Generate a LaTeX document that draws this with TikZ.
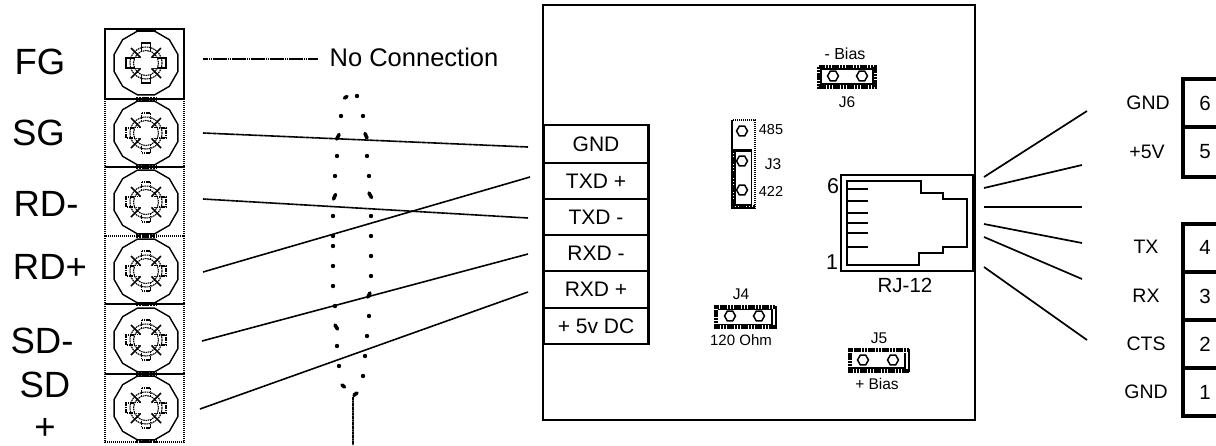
\documentclass[tikz,border=0pt]{standalone}
\usepackage{fontspec}
\setmainfont{Liberation Sans}
\newcommand{\fsz}[1]{\fontsize{#1}{#1}\selectfont}
\tikzset{
  x=1pt,y=-1pt,
  lab/.style={inner sep=0pt,font=\fsz{#1}},
  lab/.default=14,
  frame/.style={draw=black,line width=2.2pt},
  tbl/.style={draw=black,line width=3.6pt},
  wire/.style={draw=black,line width=1.6pt,dash pattern=on 1.6pt off .3pt},
  plainwire/.style={draw=black,line width=1.7pt},
  stripline/.style={draw=black,line width=2pt,dash pattern=on 1.4pt off .6pt},
  fatdash/.style={draw=black,line width=3.8pt,dash pattern=on 2.2pt off .6pt},
  thinrect/.style={draw=black,line width=1.3pt},
  dotty/.style={draw=black,line width=3.6pt,line cap=round},
  pics/screw/.style={code={
    \draw[line width=1.4pt,fill=white] (15:33)--(45:33)--(75:33)--(105:33)--(135:33)--(165:33)--(195:33)--(225:33)--(255:33)--(285:33)--(315:33)--(345:33)--cycle;
    \draw[line width=1.4pt,#1] (-4.5,-20)--(4.5,-20)--(4.5,-5)--(20,-5)--(20,5)--(4.5,5)--(4.5,20)--(-4.5,20)--(-4.5,5)--(-20,5)--(-20,-5)--(-4.5,-5)--cycle;
    \draw[line width=1.7pt] (-15,-15)--(15,15) (-15,15)--(15,-15);
    \draw[line width=1.1pt,dash pattern=on 1.6pt off .7pt] (0,0) circle[radius=16];
    \draw[line width=1.1pt,dash pattern=on 1.6pt off .7pt] (0,0) circle[radius=12.5];
    \fill[white] (-5,-11)--(5,-11)--(5,-5)--(11,-5)--(11,5)--(5,5)--(5,11)--(-5,11)--(-5,5)--(-11,5)--(-11,-5)--(-5,-5)--cycle;
  }},
  pics/screw/.default={dash pattern=on 1.6pt off .7pt},
  pics/pin/.style={code={
    \draw[line width=1.5pt] (0:5.5)--(60:5.5)--(120:5.5)--(180:5.5)--(240:5.5)--(300:5.5)--cycle;
  }},
}
\begin{document}
\begin{tikzpicture}
\useasboundingbox (0,0) rectangle (1216,445);
% terminal strip
\foreach \ya/\yb in {99/167,167/236,236/304,304/374,374/442}{
  \draw[stripline] (105,\ya) rectangle (184,\yb);
}
\draw[frame] (105,29) rectangle (184,99);
\pic at (146,63) {screw={solid}};
\foreach \c in {133,202,271,340,408}{ \pic at (146,\c) {screw}; }
\draw[line width=3pt] (136,30)--(156,30);
\foreach \c in {99,167,236,304,374,441}{ \draw[fatdash] (136,\c)--(156,\c); }
% left labels
\node[lab=36.5] (fg) at (40,62) {FG};
\node[lab=36.5] (sg) at (38.5,133) {SG};
\node[lab=36.5] (rdm) at (46,204) {RD-};
\node[lab=36.5] (rdp) at (50,267) {RD+};
\node[lab=36.5] (sdm) at (42,341) {SD-};
\node[lab=36.5] (sdp1) at (45,385) {SD};
\node[lab=36.5] (sdp2) at (45,429) {+};
\node[lab=25.5] (nc) at (414,57) {No Connection};
% main board
\draw[frame] (543,5) rectangle (975,420);
% board terminal block
\foreach \n/\ya/\yb/\t in {a/125/163/GND,b/163/199/TXD +,c/199/235/TXD -,d/235/271/RXD -,e/271/308/RXD +,f/308/344/+ 5v DC}{
  \node[draw=black,line width=2.2pt,fill=white,minimum width=105pt,minimum height=\yb pt-\ya pt,inner sep=0pt,font=\fsz{21}] (t\n) at (596,{(\ya+\yb)/2}) {\t};
}
% wires
\coordinate (w1a) at (203,59); \coordinate (w1b) at (318,59);
\coordinate (w2a) at (203,133); \coordinate (w2b) at (528,147);
\coordinate (w3a) at (203,199); \coordinate (w3b) at (528,218);
\coordinate (w4a) at (203,272); \coordinate (w4b) at (530,177);
\coordinate (w5a) at (202,341); \coordinate (w5b) at (528,254);
\coordinate (w6a) at (200,409); \coordinate (w6b) at (528,292);
\foreach \i in {1,...,6}{ \draw[wire] (w\i a)--(w\i b); }
% cable loop
\foreach \p in {(357,96),(341,116),(363,116),(337,156),(367,156),(335,176),(369,176),(333,216),(371,216),(333,236),(371,236),(333,246),(371,256),(333,266),(371,276),(333,286),(335,306),(369,316),(367,336),(337,346),(365,356),(339,366),(363,376)}{
  \fill \p circle[radius=2.2];
}
\draw[dotty] (344.5,98)--(347,96.5) (336.8,139)--(339,134.5) (365,133.5)--(367,138) (333.5,199)--(335.5,194.5) (369,193)--(371.5,197.5) (368,297)--(370,293) (335,325)--(337.5,329) (342,385)--(344.5,387);
\coordinate (cb) at (353,445);
\draw[line width=1.8pt,dash pattern=on 1.5pt off .4pt] (357,393)--(353,397)--(cb);
\draw[dotty] (354,395)--(357,393);
% jumper J6
\draw[fatdash] (819,67) rectangle (875,87);
\draw[thinrect,fill=white] (821,69) rectangle (873,84);
\pic at (833,76) {pin}; \pic at (862,76) {pin};
\node[lab=16] (bn) at (845,54) {- Bias};
\node[lab=15.5] (j6) at (847,102) {J6};
% jumper J3
\draw[line width=2pt,dash pattern=on 1.5pt off .5pt] (732,120) rectangle (755,208);
\draw[fatdash] (733,151)--(733,207)--(755,207);
\draw[thinrect] (735,151) rectangle (751.5,205);
\draw[line width=2pt] (732,150)--(752,150);
\pic at (742,131) {pin}; \pic at (742,161) {pin}; \pic at (742,190) {pin};
\node[lab=14.5] (j485) at (771,130) {485};
\node[lab=15.5] (j3) at (773,164) {J3};
\node[lab=14.5] (j422) at (771,191) {422};
% jumper J4
\draw[fatdash] (775,307)--(716,307)--(716,327)--(775,327);
\draw[line width=2pt,dash pattern=on 1.5pt off .5pt] (775.5,306)--(775.5,329);
\draw[thinrect] (718,309.5)--(772,309.5)--(772,324.5)--(718,324.5);
\pic at (730,316) {pin}; \pic at (759,316) {pin};
\node[lab=15.5] (j4) at (741,294) {J4};
\node[lab=15] (ohm) at (741,340) {120 Ohm};
% jumper J5
\draw[fatdash] (909,350)--(850,350)--(850,371)--(909,371);
\draw[line width=2pt,dash pattern=on 1.5pt off .5pt] (909,349)--(909,372);
\draw[thinrect] (852,368)--(905,368)--(905,352.5);
\pic at (863,360) {pin}; \pic at (893,360) {pin};
\node[lab=15.5] (j5) at (879,338) {J5};
\node[lab=15.5] (bp) at (877,384) {+ Bias};
% RJ-12
\draw[line width=1.8pt] (841,175) rectangle (973,271);
\draw[line width=1.8pt] (847,181)--(921,181)--(921,193)--(943,193)--(943,199)--(967,199)--(967,247)--(943,247)--(943,253)--(919,253)--(919,265)--(847,265)--cycle;
\foreach \c in {189,201,213,223,233,247}{ \draw[line width=1.4pt] (847,\c)--(868,\c); }
\node[lab=21.5] (six) at (833,186) {6};
\node[lab=21.5] (one) at (832,262) {1};
\node[lab=20.5] (rj) at (905,285) {RJ-12};
% right wires
\coordinate (r1a) at (984,177); \coordinate (r1b) at (1087,111);
\coordinate (r2a) at (984,188); \coordinate (r2b) at (1082,165);
\coordinate (r3a) at (984,207); \coordinate (r3b) at (1082,207);
\coordinate (r4a) at (984,224); \coordinate (r4b) at (1082,243);
\coordinate (r5a) at (984,237); \coordinate (r5b) at (1082,279);
\coordinate (r6a) at (984,267); \coordinate (r6b) at (1087,340);
\foreach \i in {1,...,6}{ \draw[plainwire] (r\i a)--(r\i b); }
% right tables
\draw[tbl] (1216,79)--(1183,79)--(1183,177)--(1216,177);
\draw[tbl] (1183,127)--(1216,127);
\draw[tbl] (1216,224)--(1183,224)--(1183,416)--(1216,416);
\foreach \c in {272,320,368}{ \draw[tbl] (1183,\c)--(1216,\c); }
\node[lab=20.5] (n6) at (1205,103) {6};
\node[lab=20.5] (n5) at (1205,152) {5};
\node[lab=20.5] (n4) at (1205,247) {4};
\node[lab=20.5] (n3) at (1205,296) {3};
\node[lab=20.5] (n2) at (1205,344) {2};
\node[lab=20.5] (n1) at (1205,392) {1};
\node[lab=19.5] (l6) at (1148,103) {GND};
\node[lab=19.5] (l5) at (1147,152) {+5V};
\node[lab=19.5] (l4) at (1146,247) {TX};
\node[lab=19.5] (l3) at (1146,296) {RX};
\node[lab=19.5] (l2) at (1146,344) {CTS};
\node[lab=19.5] (l1) at (1146,392) {GND};
\end{tikzpicture}
\end{document}
